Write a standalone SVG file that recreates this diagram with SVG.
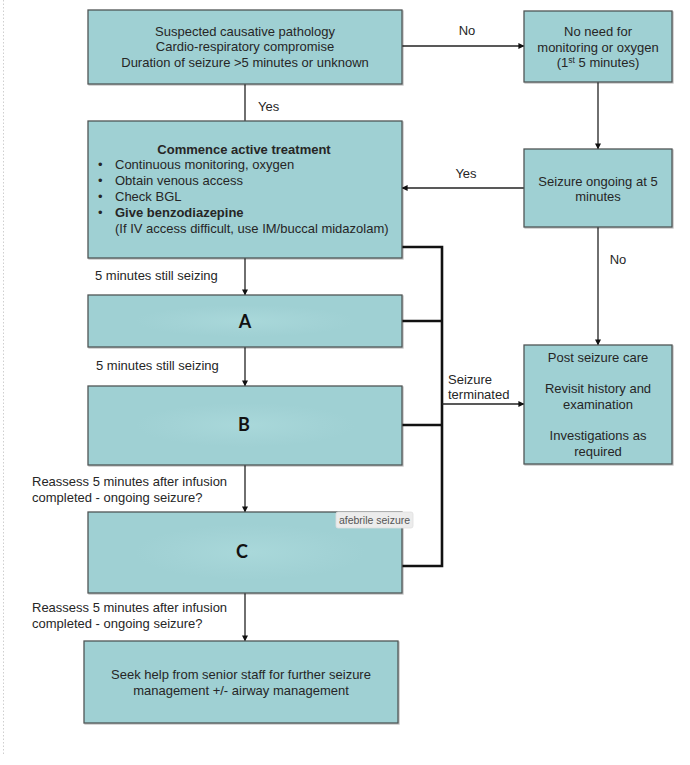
<svg xmlns="http://www.w3.org/2000/svg" width="690" height="765" viewBox="0 0 690 765">
<style>
.box{fill:#9fd0d3;stroke:#505656;stroke-width:1.3}
.t{font-family:"Liberation Sans",Arial,sans-serif;font-size:13px;fill:#262626}
.c{text-anchor:middle}
.b{font-weight:bold}
.big{font-family:Lato,"Open Sans",sans-serif;font-size:18px;font-weight:bold;fill:#111;text-anchor:middle}
.ln{fill:none;stroke:#222;stroke-width:1.3}
.thick{fill:none;stroke:#111;stroke-width:2.6}
.tip{font-family:"Liberation Sans",Arial,sans-serif;font-size:10.5px;fill:#555;text-anchor:middle}
</style>
<defs>
<marker id="ah" viewBox="0 0 8 8" refX="7.5" refY="4" markerWidth="6" markerHeight="6" markerUnits="userSpaceOnUse" orient="auto">
<path d="M0,0 L8,4 L0,8 z" fill="#111"/>
</marker>
<radialGradient id="blur" cx="0.5" cy="0.5" r="0.5">
<stop offset="0" stop-color="#a9d8da"/>
<stop offset="0.7" stop-color="#a2d2d5"/>
<stop offset="1" stop-color="#9fd0d3"/>
</radialGradient>
<filter id="sh" x="-5%" y="-5%" width="110%" height="115%">
<feDropShadow dx="1" dy="1" stdDeviation="0.6" flood-color="#000" flood-opacity="0.25"/>
</filter>
</defs>
<rect width="690" height="765" fill="#fff"/>
<line x1="3.5" y1="0" x2="3.5" y2="754" stroke="#cfcfcf" stroke-width="1" stroke-dasharray="1.5 2"/>

<g id="connectors">
<line class="ln" x1="402" y1="46" x2="524" y2="46" marker-end="url(#ah)"/>
<line class="ln" x1="598" y1="82" x2="598" y2="149" stroke-width="2.5" marker-end="url(#ah)"/>
<line class="ln" x1="245" y1="84" x2="245" y2="121"/>
<line class="ln" x1="524" y1="188" x2="402" y2="188" marker-end="url(#ah)"/>
<line class="ln" x1="598" y1="227" x2="598" y2="345" marker-end="url(#ah)"/>
<line class="ln" x1="245" y1="258" x2="245" y2="295" marker-end="url(#ah)"/>
<line class="ln" x1="245" y1="347" x2="245" y2="386" marker-end="url(#ah)"/>
<line class="ln" x1="245" y1="465" x2="245" y2="512" marker-end="url(#ah)"/>
<line class="ln" x1="245" y1="593" x2="245" y2="641" marker-end="url(#ah)"/>
<polyline class="thick" points="402,247 442,247 442,566 402,566"/>
<line class="thick" x1="402" y1="321" x2="442" y2="321"/>
<line class="thick" x1="402" y1="425" x2="442" y2="425"/>
<line class="ln" x1="442" y1="404" x2="524" y2="404" stroke-width="1.5" marker-end="url(#ah)"/>
<text class="t c" x="467" y="35">No</text>
<text class="t" x="258" y="111">Yes</text>
<text class="t c" x="466" y="178">Yes</text>
<text class="t c" x="618" y="264">No</text>
<text class="t" x="95" y="280">5 minutes still seizing</text>
<text class="t" x="96" y="370">5 minutes still seizing</text>
<text class="t" x="448" y="383.5">Seizure</text>
<text class="t" x="448" y="398.5">terminated</text>
<text class="t" x="32" y="486">Reassess 5 minutes after infusion</text>
<text class="t" x="32" y="502">completed - ongoing seizure?</text>
<text class="t" x="32" y="612">Reassess 5 minutes after infusion</text>
<text class="t" x="32" y="628">completed - ongoing seizure?</text>
</g>

<g id="n-start">
<rect class="box" x="88" y="10" width="314" height="74" filter="url(#sh)"/>
<text class="t c" x="245" y="35.5">Suspected causative pathology</text>
<text class="t c" x="245" y="51">Cardio-respiratory compromise</text>
<text class="t c" x="245" y="66.5">Duration of seizure &gt;5 minutes or unknown</text>
</g>

<g id="n-noneed">
<rect class="box" x="524" y="11" width="148" height="71" filter="url(#sh)"/>
<text class="t c" x="598" y="36">No need for</text>
<text class="t c" x="598" y="51.5">monitoring or oxygen</text>
<text class="t c" x="598" y="67">(1<tspan font-size="8.5" dy="-4.5">st</tspan><tspan dy="4.5"> 5 minutes)</tspan></text>
</g>

<g id="n-ongoing">
<rect class="box" x="524" y="149" width="148" height="78" filter="url(#sh)"/>
<text class="t c" x="598" y="185.5">Seizure ongoing at 5</text>
<text class="t c" x="598" y="200.5">minutes</text>
</g>

<g id="n-active">
<rect class="box" x="88" y="121" width="314" height="137" filter="url(#sh)"/>
<text class="t c b" x="244" y="154">Commence active treatment</text>
<text class="t" x="98" y="169">•</text>
<text class="t" x="115" y="169">Continuous monitoring, oxygen</text>
<text class="t" x="98" y="185">•</text>
<text class="t" x="115" y="185">Obtain venous access</text>
<text class="t" x="98" y="201">•</text>
<text class="t" x="115" y="201">Check BGL</text>
<text class="t" x="98" y="217">•</text>
<text class="t b" x="115" y="217">Give benzodiazepine</text>
<text class="t" x="115" y="233">(If IV access difficult, use IM/buccal midazolam)</text>
</g>

<g id="n-a">
<rect class="box" x="88" y="295" width="314" height="52" filter="url(#sh)"/>
<ellipse cx="245" cy="321" rx="110" ry="16" fill="url(#blur)"/>
<text class="big" x="245" y="327.5">A</text>
</g>

<g id="n-b">
<rect class="box" x="88" y="386" width="314" height="79" filter="url(#sh)"/>
<ellipse cx="245" cy="425" rx="110" ry="22" fill="url(#blur)"/>
<text class="big" x="244" y="431">B</text>
</g>

<g id="n-c">
<rect class="box" x="88" y="512" width="314" height="81" filter="url(#sh)"/>
<ellipse cx="250" cy="552" rx="115" ry="28" fill="url(#blur)"/>
<text class="big" x="242" y="557.5">C</text>
</g>

<g id="tooltip">
<rect x="336" y="512" width="77" height="16" rx="2" fill="#ececec" stroke="#e0e0e0" stroke-width="0.8"/>
<text class="tip" x="374.5" y="523.5">afebrile seizure</text>
</g>

<g id="n-post">
<rect class="box" x="524" y="345" width="148" height="119" filter="url(#sh)"/>
<text class="t c" x="598" y="361.5">Post seizure care</text>
<text class="t c" x="598" y="392.5">Revisit history and</text>
<text class="t c" x="598" y="408.5">examination</text>
<text class="t c" x="598" y="439.5">Investigations as</text>
<text class="t c" x="598" y="455.5">required</text>
</g>

<g id="n-senior">
<rect class="box" x="84" y="641" width="314" height="82" filter="url(#sh)"/>
<text class="t c" x="241" y="678.5">Seek help from senior staff for further seizure</text>
<text class="t c" x="241" y="694.5">management +/- airway management</text>
</g>
</svg>
